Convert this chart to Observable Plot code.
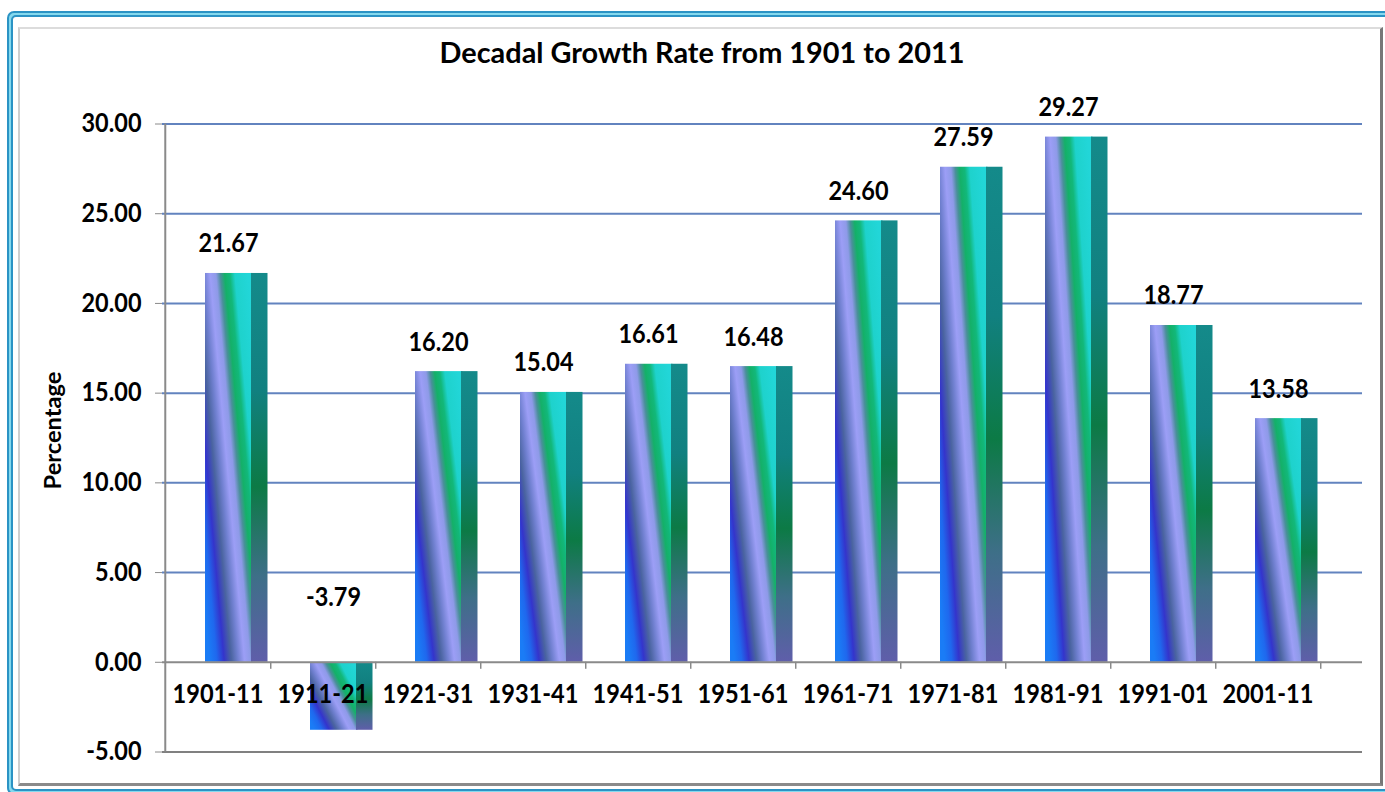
<!DOCTYPE html>
<html><head><meta charset="utf-8">
<script src="https://cdn.jsdelivr.net/npm/d3@7"></script>
<script src="https://cdn.jsdelivr.net/npm/@observablehq/plot@0.6"></script>
<style>
html,body{margin:0;padding:0;background:#fff;overflow:hidden;}
#wrap{position:relative;width:1385px;height:792px;overflow:hidden;background:#fff;}
#f1{position:absolute;left:7px;top:11px;width:1395px;height:784px;box-sizing:border-box;border:2px solid #2b93c4;border-radius:7px;background:#84d9ee;}
#f2{position:absolute;left:2px;top:2px;right:2px;bottom:2px;border:2px solid #2b93c4;border-radius:5px;background:#fff;}
#panel{position:absolute;left:18px;top:27px;width:1365px;height:759px;box-sizing:border-box;border-left:2px solid #cfcfcf;border-top:2px solid #dcdcdc;border-right:3px solid #777;border-bottom:3px solid #8a8a8a;background:#fff;}
#title{position:absolute;left:702px;transform:translateX(-50%);white-space:nowrap;color:#000;font-weight:bold;line-height:1;}
#chart{position:absolute;left:0;top:0;}
</style></head>
<body><div id="wrap"><div id="f1"><div id="f2"></div></div><div id="panel"></div><div id="title"></div><div id="chart"></div></div>
<script>
// ---- data ----
const categories = ["1901-11","1911-21","1921-31","1931-41","1941-51","1951-61","1961-71","1971-81","1981-91","1991-01","2001-11"];
const growthRates = [21.67,-3.79,16.20,15.04,16.61,16.48,24.60,27.59,29.27,18.77,13.58];
const yTickValues = [-5,0,5,10,15,20,25,30];
const titleText = "Decadal Growth Rate from 1901 to 2011";
const yLabel = "Percentage";

const rows = categories.map((period, i) => ({period, rate: growthRates[i]}));

// ---- font selection ----
const ctx = document.createElement("canvas").getContext("2d");
function has(f) {
  const s = "1901-11 Decadal Growth Rate";
  ctx.font = "bold 50px monospace"; const a = ctx.measureText(s).width;
  ctx.font = `bold 50px "${f}", monospace`; return Math.abs(ctx.measureText(s).width - a) > 0.5;
}
const fam = ["Liberation Sans Narrow", "Arial Narrow", "Lato"].find(has) || "sans-serif";
const FONT = `"${fam}", Lato, sans-serif`;
function fit(t, w) { ctx.font = `bold 100px "${fam}"`; return 100 * w / ctx.measureText(t).width; }
const xFs = fit("1901-11", 91);
const yFs = fit("30.00", 60);
const vFs = fit("29.27", 60);
const tFs = fit(titleText, 525);
const lFs = fit(yLabel, 118);
const STRETCH = 1.1;

// title
const title = document.getElementById("title");
title.textContent = titleText;
title.style.fontFamily = FONT;
title.style.fontSize = tFs + "px";
ctx.font = `bold ${tFs}px "${fam}"`;
const m = ctx.measureText(titleText);
const A = m.fontBoundingBoxAscent, D = m.fontBoundingBoxDescent;
title.style.top = (63 - ((tFs - (A + D)) / 2 + A)) + "px";

// ---- chart ----
const X0 = 162, X1 = 1322;
const bw = (X1 - X0) / categories.length;
const gridColor = "#6283bf";
const axisGray = "#8a8a8a";

const frontStops = [[0,"#1a7cf6"],[0.1,"#1f68ee"],[0.2,"#3434cc"],[0.3,"#4a64a0"],[0.39,"#7080d0"],[0.48,"#9c9ef6"],[0.56,"#8e9ae8"],[0.62,"#4a8f9a"],[0.68,"#14b068"],[0.75,"#12b87a"],[0.82,"#1ed2cc"],[1,"#22d6d8"]];
const sideStops = [[0,"#148a8a"],[0.3,"#118080"],[0.55,"#0c7a45"],[0.78,"#3e6f88"],[1,"#5f5eaa"]];

const defs = () => {
  const g = d3.create("svg:g");
  const d = g.append("defs");
  const f = d.append("linearGradient").attr("id", "barFront")
    .attr("x1", 0).attr("y1", 0.865).attr("x2", 1).attr("y2", 0.135);
  frontStops.forEach(([o, c]) => f.append("stop").attr("offset", o).attr("stop-color", c));
  const s = d.append("linearGradient").attr("id", "barSide")
    .attr("x1", 0).attr("y1", 0).attr("x2", 0).attr("y2", 1);
  sideStops.forEach(([o, c]) => s.append("stop").attr("offset", o).attr("stop-color", c));
  return g.node();
};

const fmt = v => v.toFixed(2);

const chart = Plot.plot({
  width: 1385, height: 792,
  marginLeft: 162, marginRight: 23, marginTop: 123.5, marginBottom: 40.5,
  style: {background: "transparent", fontFamily: FONT, color: "#000", overflow: "visible"},
  x: {type: "band", domain: categories, range: [X0, X1], padding: 0, axis: null},
  y: {domain: [-5, 30], axis: null},
  marks: [
    defs,
    Plot.ruleY(yTickValues.filter(v => v > 0), {stroke: gridColor, strokeWidth: 2}),
    Plot.ruleY(yTickValues.filter(v => v < 0), {stroke: "#808080", strokeWidth: 2}),
    Plot.barY(rows, {x: "period", y: "rate", fill: "url(#barFront)", insetLeft: 40, insetRight: 17.5}),
    Plot.barY(rows, {x: "period", y: "rate", fill: "url(#barSide)", insetLeft: 86, insetRight: 2.5}),
    Plot.ruleY([0], {stroke: axisGray, strokeWidth: 2}),
    Plot.ruleX(categories.slice(0, 1), {x: d => d, dx: -bw / 2, stroke: axisGray, strokeWidth: 2}),
    Plot.ruleX(categories, {x: d => d, y1: 0, y2: 0, insetBottom: -7, dx: bw / 2, stroke: axisGray, strokeWidth: 1.5}),
    Plot.axisY(yTickValues, {anchor: "left", tickSize: 7, tickPadding: 14, tickFormat: fmt,
      fontSize: yFs, fontWeight: "bold", stroke: axisGray, fill: "#000", label: null}),
    Plot.text(rows.filter(d => d.rate >= 0), {x: "period", y: "rate", text: d => fmt(d.rate),
      dx: 10.5, dy: -21, lineAnchor: "bottom", fontSize: vFs, fontWeight: "bold", fill: "#000"}),
    Plot.text(rows.filter(d => d.rate < 0), {x: "period", y: 0, text: d => fmt(d.rate),
      dx: 10.5, dy: -56, lineAnchor: "bottom", fontSize: vFs, fontWeight: "bold", fill: "#000"}),
    Plot.text(categories, {x: d => d, y: 0, text: d => d, dy: 32, lineAnchor: "middle",
      fontSize: xFs, fontWeight: "bold", fill: "#000"}),
    Plot.text([yLabel], {frameAnchor: "left", text: d => d, rotate: -90, dx: -109.5, dy: -7.5,
      textAnchor: "middle", lineAnchor: "middle", fontSize: lFs, fontWeight: "bold", fill: "#000"})
  ]
});
// slight vertical stretch of the (non-rotated) labels, like the reference's tall glyphs
chart.querySelectorAll("text").forEach(t => {
  const tr = t.getAttribute("transform");
  if (tr && /translate/.test(tr) && !/rotate/.test(tr)) t.setAttribute("transform", tr + ` scale(1,${STRETCH})`);
});
document.getElementById("chart").appendChild(chart);
</script></body></html>
